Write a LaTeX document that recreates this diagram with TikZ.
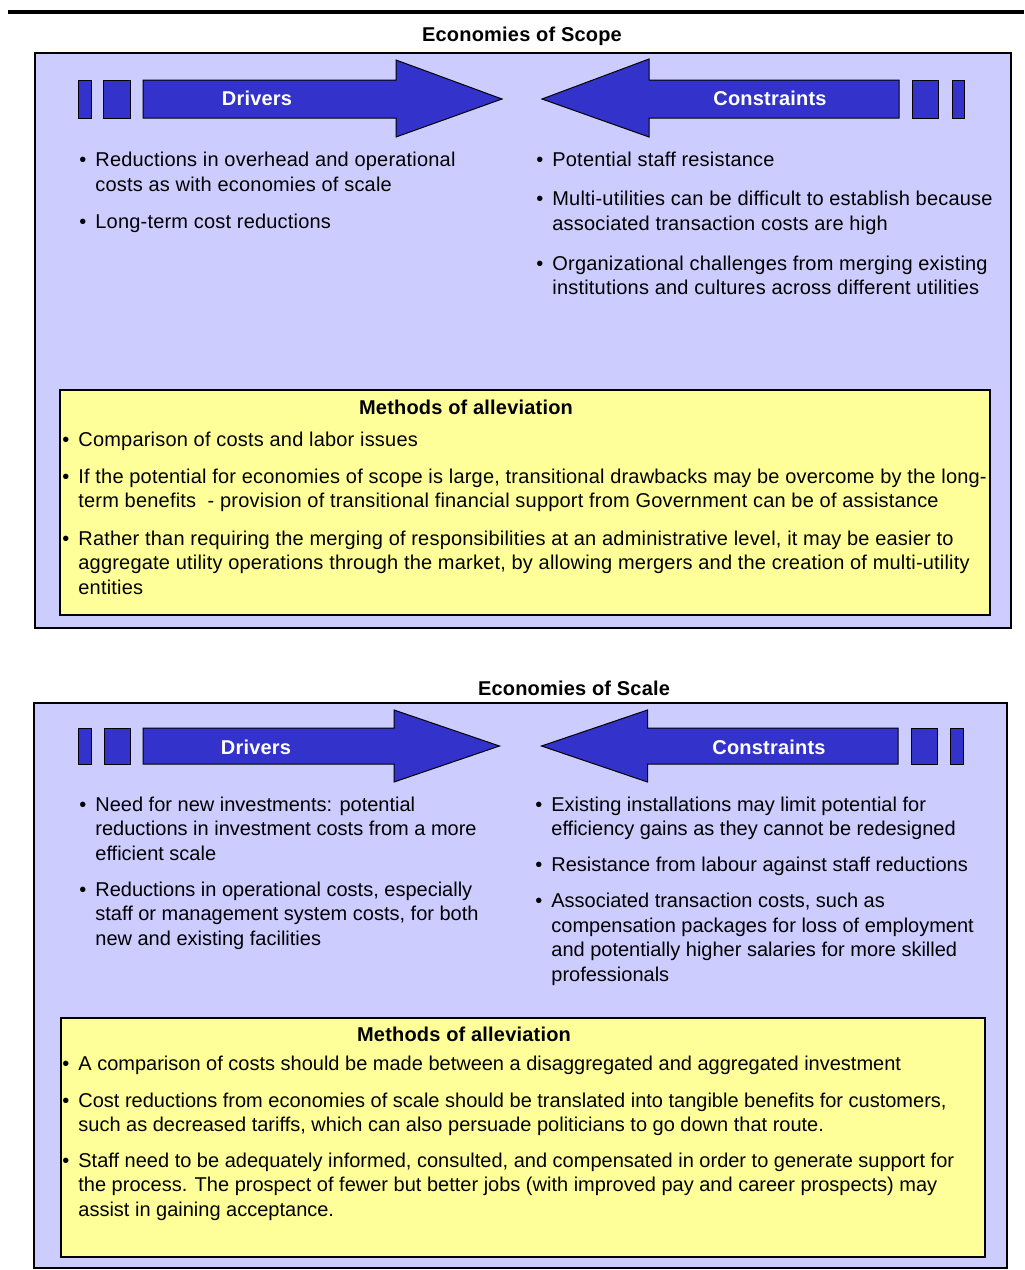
\documentclass[tikz,border=0pt]{standalone}
\usepackage{fontspec}
\setmainfont{Liberation Sans}[LetterSpace=1]
\newfontfamily\plainsans{Liberation Sans}
\usepackage{xcolor}
\usetikzlibrary{positioning}
\definecolor{panelcol}{RGB}{204,204,255}
\definecolor{arrowcol}{RGB}{51,51,204}
\definecolor{notecol} {RGB}{255,255,153}
\newcommand{\bl}{\llap{\textbullet\hspace{4.5pt}}}

\begin{document}
\begin{tikzpicture}[
  x=0.5pt,y=-0.5pt,
  panel/.style={draw=black,line width=0.8pt,fill=panelcol},
  note/.style ={draw=black,line width=0.6pt,fill=notecol},
  blk/.style  ={draw=black,line width=0.5pt,fill=arrowcol},
  tag/.style  ={font=\fontsize{10}{12}\selectfont\bfseries,text=white,inner sep=0pt},
  ttl/.style  ={font=\fontsize{10}{12}\selectfont\bfseries,inner sep=0pt},
  txt/.style  ={anchor=base west,align=left,inner sep=0pt,
                font=\fontsize{10}{12.25}\selectfont},
  txtb/.style ={txt,font=\fontsize{10}{12.25}\selectfont\plainsans}
]
\useasboundingbox (0,0) rectangle (1024,1270);
\draw[line width=2pt] (8,12) -- (1024,12);

% Economies of Scope
\node[ttl] (t1) at (522,36) {Economies of Scope};
\draw[panel] (35,53) rectangle (1011,628);
\draw[blk] (78,80) rectangle (91,118);
\draw[blk] (103,80) rectangle (130,118);
\draw[blk] (143,80) -- (396,80) -- (396,60) -- (502,99) -- (396,137)
  -- (396,118) -- (143,118) -- cycle;
\node[tag] (dr1) at (257,98) {Drivers};
\draw[blk] (912,80) rectangle (938,118);
\draw[blk] (952,80) rectangle (964,118);
\draw[blk] (899,80) -- (649,80) -- (649,59) -- (542,99) -- (649,137)
  -- (649,118) -- (899,118) -- cycle;
\node[tag] (cn1) at (770,98) {Constraints};

% multi-line texts sit on the baseline of their last line
\node[txt] (d1a) at (95,191) {\bl Reductions in overhead and operational\\costs as with economies of scale};
\node[txt] (d1b) at (95,228.5) {\bl Long-term cost reductions};
\node[txt] (c1a) at (552,166) {\bl Potential staff resistance};
\node[txt] (c1b) at (552,230) {\bl Multi-utilities can be difficult to establish because\\associated transaction costs are high};
\node[txt] (c1c) at (552,294.5) {\bl Organizational challenges from merging existing\\institutions and cultures across different utilities};

\draw[note] (60,390) rectangle (990,615);
\node[ttl] (m1) at (466,407) {Methods of alleviation};
\node[txt] (m1a) at (78,446) {\bl Comparison of costs and labor issues};
\node[txt] (m1b) at (78,507.5) {\bl If the potential for economies of scope is large, transitional drawbacks may be overcome by the long-\\term benefits\ \ - provision of transitional financial support from Government can be of assistance};
\node[txt] (m1c) at (78,594) {\bl Rather than requiring the merging of responsibilities at an administrative level, it may be easier to\\aggregate utility operations through the market, by allowing mergers and the creation of multi-utility\\entities};

% Economies of Scale
\node[ttl] (t2) at (574,688) {Economies of Scale};
\draw[panel] (34,703) rectangle (1007,1268);
\draw[blk] (78,728) rectangle (91,764);
\draw[blk] (104,728) rectangle (130.5,764);
\draw[blk] (143,728) -- (394,728) -- (394,710) -- (499.5,746) -- (394,782)
  -- (394,764) -- (143,764) -- cycle;
\node[tag] (dr2) at (256,747) {Drivers};
\draw[blk] (911,728) rectangle (937,764);
\draw[blk] (950,728) rectangle (963,764);
\draw[blk] (898,728) -- (647.5,728) -- (647.5,710) -- (541.5,746) -- (647.5,782)
  -- (647.5,764) -- (898,764) -- cycle;
\node[tag] (cn2) at (769,747) {Constraints};

\node[txtb] (d2a) at (95,860) {\bl Need for new investments: potential\\reductions in investment costs from a more\\efficient scale};
\node[txtb] (d2b) at (95,945) {\bl Reductions in operational costs, especially\\staff or management system costs, for both\\new and existing facilities};
\node[txtb] (c2a) at (551,835.5) {\bl Existing installations may limit potential for\\efficiency gains as they cannot be redesigned};
\node[txtb] (c2b) at (551,871) {\bl Resistance from labour against staff reductions};
\node[txtb] (c2c) at (551,981) {\bl Associated transaction costs, such as\\compensation packages for loss of employment\\and potentially higher salaries for more skilled\\professionals};

\draw[note] (61,1018) rectangle (985,1257);
\node[ttl] (m2) at (464,1034) {Methods of alleviation};
\node[txtb] (m2a) at (78,1070) {\bl A comparison of costs should be made between a disaggregated and aggregated investment};
\node[txtb] (m2b) at (78,1131.5) {\bl Cost reductions from economies of scale should be translated into tangible benefits for customers,\\such as decreased tariffs, which can also persuade politicians to go down that route.};
\node[txtb] (m2c) at (78,1216) {\bl Staff need to be adequately informed, consulted, and compensated in order to generate support for\\the process. The prospect of fewer but better jobs (with improved pay and career prospects) may\\assist in gaining acceptance.};
\end{tikzpicture}
\end{document}
